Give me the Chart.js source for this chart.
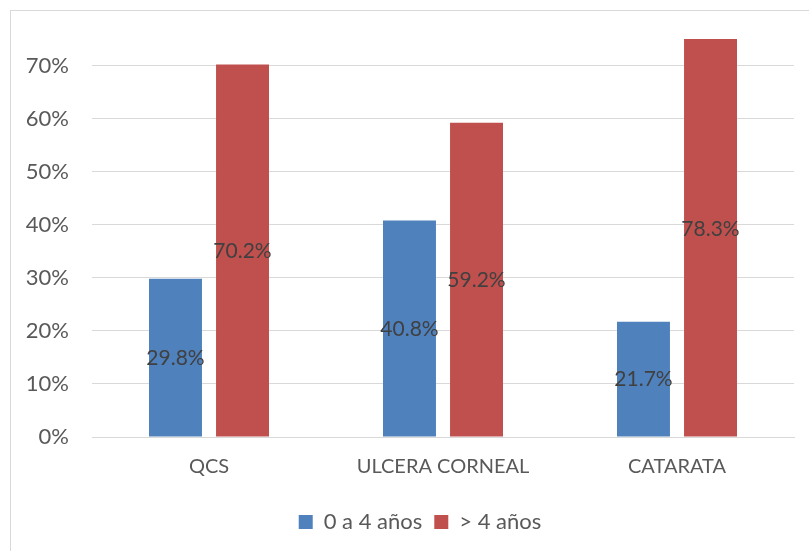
<!DOCTYPE html>
<html>
<head>
<meta charset="utf-8">
<script src="https://cdn.jsdelivr.net/npm/chart.js@4/dist/chart.umd.min.js"></script>
<style>
  html, body { margin: 0; padding: 0; background: #ffffff; }
  #wrap { position: relative; width: 809px; height: 551px; }
</style>
</head>
<body>
<div id="wrap"><canvas id="c" width="809" height="551"></canvas></div>
<script>
// Categories and percentage values per age group
const categories = ['QCS', 'ULCERA CORNEAL', 'CATARATA'];
const seriesNames = ['0 a 4 años', '> 4 años'];
const youngValues = [29.8, 40.8, 21.7];
const olderValues = [70.2, 59.2, 78.3];
const tickValues = [0, 10, 20, 30, 40, 50, 60, 70];

const FONT = 'Lato, "Open Sans", sans-serif';

// Outer frame of the chart
const framePlugin = {
  id: 'frame',
  beforeDraw(chart) {
    const ctx = chart.ctx;
    ctx.save();
    ctx.fillStyle = '#ffffff';
    ctx.fillRect(0, 0, chart.width, chart.height);
    ctx.strokeStyle = '#d9d9d9';
    ctx.lineWidth = 1;
    ctx.strokeRect(10.5, 10.5, 1000, 1000);
    ctx.restore();
  }
};

// Nudge the legend a little to the right
const legendShift = {
  id: 'legendShift',
  afterLayout(chart) {
    if (chart.legend) {
      chart.legend.left += 23;
      chart.legend.right += 23;
    }
  }
};

// Value labels centred at half of each bar's value
const valueLabels = {
  id: 'valueLabels',
  afterDatasetsDraw(chart) {
    const ctx = chart.ctx;
    const yScale = chart.scales.y;
    ctx.save();
    ctx.font = '21px ' + FONT;
    ctx.fillStyle = '#404040';
    ctx.textAlign = 'center';
    ctx.textBaseline = 'middle';
    chart.data.datasets.forEach((ds, di) => {
      const meta = chart.getDatasetMeta(di);
      meta.data.forEach((bar, i) => {
        const v = ds.data[i];
        const y = yScale.getPixelForValue(v / 2);
        ctx.fillText(v.toFixed(1) + '%', bar.x, y);
      });
    });
    ctx.restore();
  }
};

new Chart(document.getElementById('c'), {
  type: 'bar',
  data: {
    labels: categories,
    datasets: [
      { label: seriesNames[0], data: youngValues, backgroundColor: '#4f81bd' },
      { label: seriesNames[1], data: olderValues, backgroundColor: '#c0504d' }
    ]
  },
  options: {
    responsive: false,
    animation: false,
    devicePixelRatio: 1,
    layout: { padding: { top: 39, right: 15, left: 0, bottom: 8 } },
    datasets: {
      bar: { categoryPercentage: 0.573, barPercentage: 0.79 }
    },
    scales: {
      x: {
        grid: { display: false },
        border: { display: true, color: '#d9d9d9' },
        ticks: { color: '#595959', font: { family: FONT, size: 20 }, padding: 10, maxRotation: 0 },
        afterFit(scale) { scale.height = 62; }
      },
      y: {
        min: 0,
        max: 75,
        afterBuildTicks(scale) { scale.ticks = tickValues.map(v => ({ value: v })); },
        grid: { color: '#d9d9d9', drawTicks: false },
        border: { display: false },
        ticks: {
          color: '#595959',
          font: { family: FONT, size: 22 },
          padding: 23,
          callback: v => v + '%'
        },
        afterFit(scale) { scale.width = 92; }
      }
    },
    plugins: {
      legend: {
        position: 'bottom',
        labels: {
          color: '#595959',
          font: { family: FONT, size: 22 },
          boxWidth: 14,
          boxHeight: 14,
          padding: 12
        }
      },
      tooltip: { enabled: false }
    }
  },
  plugins: [framePlugin, legendShift, valueLabels]
});
</script>
</body>
</html>
